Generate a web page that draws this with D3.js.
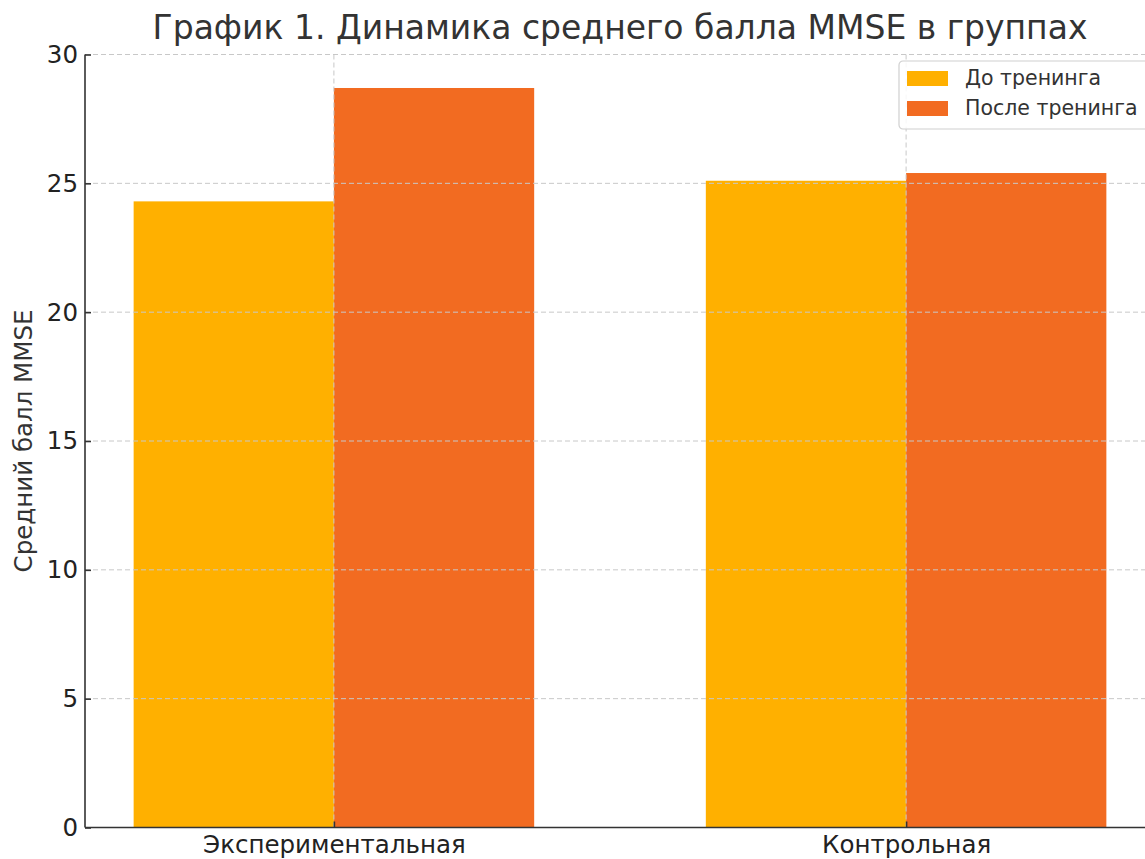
<!DOCTYPE html>
<html>
<head>
    <meta charset="UTF-8" />
    <style>
        body { margin: 0; background: #fff; }
        text { font-family: "DejaVu Sans", sans-serif; fill: #333; }
        .grid line { stroke: #c8c8c8; stroke-dasharray: 5,3; stroke-width: 1; }
        .axis path, .axis line { stroke: #333; stroke-width: 1.6; }
        .axis text { font-size: 24.5px; fill: #222; }
    </style>
    <script src="https://d3js.org/d3.v7.min.js"></script>
</head>
<body>
    <svg width="1145" height="859"></svg>
    <script>
        var groups = ["Экспериментальная", "Контрольная"];
        var seriesNames = ["До тренинга", "После тренинга"];
        var before = [24.3, 25.1];
        var after = [28.7, 25.4];
        var colors = ["#FFB000", "#F26B21"];
        var yTicks = [0, 5, 10, 15, 20, 25, 30];

        var svg = d3.select("svg"),
            pLeft = 85, pRight = 1155, pTop = 54.5, pBottom = 827.5,
            barW = 0.35;

        // matplotlib-like x scale: positions 0,1 with 5% margins
        var x = d3.scaleLinear()
                  .domain([-barW - 0.085, 1 + barW + 0.085])
                  .range([pLeft, pRight]);
        var y = d3.scaleLinear().domain([0, 30]).range([pBottom, pTop]);

        var data = [before, after];

        // bars
        data.forEach(function(vals, s) {
            svg.append("g").selectAll("rect")
               .data(vals)
               .enter().append("rect")
               .attr("x", function(d, i) { return x(i + (s - 1) * barW); })
               .attr("width", x(barW) - x(0))
               .attr("y", function(d) { return y(d); })
               .attr("height", function(d) { return y(0) - y(d); })
               .attr("fill", colors[s]);
        });

        // grid over bars
        var grid = svg.append("g").attr("class", "grid");
        grid.selectAll(".h").data(yTicks).enter().append("line")
            .attr("x1", pLeft).attr("x2", pRight)
            .attr("y1", function(d) { return y(d); })
            .attr("y2", function(d) { return y(d); });
        grid.selectAll(".v").data(groups).enter().append("line")
            .attr("x1", function(d, i) { return x(i); })
            .attr("x2", function(d, i) { return x(i); })
            .attr("y1", pTop).attr("y2", pBottom);

        // axes
        var yAxis = svg.append("g").attr("class", "axis")
            .attr("transform", "translate(" + pLeft + ",0)")
            .call(d3.axisLeft(y).tickValues(yTicks).tickSize(6).tickPadding(7).tickSizeOuter(0));
        yAxis.select(".domain").attr("d", "M0," + pTop + "V" + pBottom);
        yAxis.selectAll(".tick line").attr("x2", 6);
        yAxis.selectAll(".tick text").attr("x", -7);

        var xAxis = svg.append("g").attr("class", "axis")
            .attr("transform", "translate(0," + pBottom + ")")
            .call(d3.axisBottom(x).tickValues([0, 1]).tickFormat(function(d) { return groups[d]; })
                  .tickSize(6).tickPadding(6).tickSizeOuter(0));
        xAxis.select(".domain").attr("d", "M" + pLeft + ",0H" + pRight);
        xAxis.selectAll(".tick line").attr("y2", -6);
        xAxis.selectAll(".tick text").attr("dy", "0.55em");

        // y label
        svg.append("text")
           .attr("transform", "translate(32," + ((pTop + pBottom) / 2) + ") rotate(-90)")
           .attr("text-anchor", "middle")
           .style("font-size", "24.5px")
           .text("Средний балл MMSE");

        // title
        svg.append("text")
           .attr("x", (pLeft + pRight) / 2)
           .attr("y", 39)
           .attr("text-anchor", "middle")
           .style("font-size", "33px")
           .text("График 1. Динамика среднего балла MMSE в группах");

        // legend
        var lg = svg.append("g").attr("transform", "translate(899,61)");
        lg.append("rect")
          .attr("width", 260).attr("height", 68).attr("rx", 4)
          .attr("fill", "#fff").attr("fill-opacity", 0.85)
          .attr("stroke", "#d0d0d0").attr("stroke-width", 1.2);
        seriesNames.forEach(function(name, i) {
            lg.append("rect")
              .attr("x", 8).attr("y", 10 + i * 30)
              .attr("width", 41).attr("height", 15)
              .attr("fill", colors[i]);
            lg.append("text")
              .attr("x", 66).attr("y", 24 + i * 30)
              .style("font-size", "20.5px")
              .text(name);
        });
    </script>
</body>
</html>
